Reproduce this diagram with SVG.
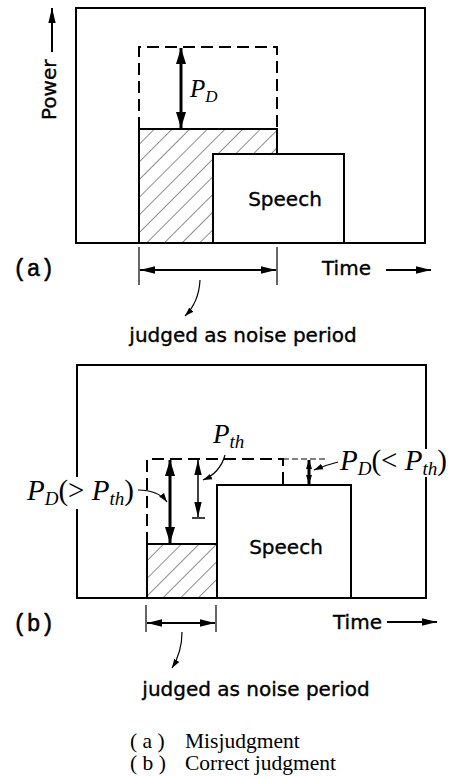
<svg xmlns="http://www.w3.org/2000/svg" width="457" height="780" viewBox="0 0 457 780">
<style>
.box{fill:none;stroke:#000;stroke-width:2}
.sp{fill:#fff;stroke:#000;stroke-width:2}
.dash{fill:none;stroke:#000;stroke-width:2;stroke-dasharray:12 6}
.thin{fill:none;stroke:#000;stroke-width:1.2}
.lbl{font-family:"DejaVu Sans",sans-serif;font-size:20px;fill:#000;stroke:#000;stroke-width:0.35}
.mono{font-family:"Liberation Mono","DejaVu Sans Mono",monospace;font-size:23px;fill:#000;stroke:#000;stroke-width:0.5}
.m{font-family:"Liberation Serif",serif;font-style:italic;fill:#000}
.cap{font-family:"Liberation Serif",serif;font-size:21.5px;fill:#000}
</style>
<defs>
<pattern id="hatch" patternUnits="userSpaceOnUse" width="12.5" height="12.5" patternTransform="rotate(45)">
<line x1="0" y1="0" x2="0" y2="12.5" stroke="#444" stroke-width="1.2"/>
</pattern>
<marker id="ah" markerUnits="userSpaceOnUse" markerWidth="16" markerHeight="12" refX="15" refY="6" orient="auto-start-reverse"><path d="M0,2.3 L15,6 L0,9.7 z" fill="#000"/></marker>
<marker id="ahk" markerUnits="userSpaceOnUse" markerWidth="17" markerHeight="12" refX="16" refY="6" orient="auto-start-reverse"><path d="M0,1 L16,6 L0,11 z" fill="#000"/></marker>
<marker id="ahs" markerUnits="userSpaceOnUse" markerWidth="10" markerHeight="8" refX="9" refY="4" orient="auto-start-reverse"><path d="M0,1 L9,4 L0,7 z" fill="#000"/></marker>
</defs>
<rect width="457" height="780" fill="#fff"/>

<g id="panel-a">
<rect class="box" x="76" y="8" width="349" height="235"/>
<g id="a-noise">
<rect x="139" y="129" width="138" height="114" fill="url(#hatch)" stroke="#000" stroke-width="2"/>
<path class="dash" d="M139,129 V47 H277 V129"/>
</g>
<g id="a-speech">
<rect class="sp" x="213" y="154" width="131" height="89"/>
<text class="lbl" x="285" y="206" text-anchor="middle">Speech</text>
</g>
<g id="a-power">
<text class="lbl" transform="translate(56,120) rotate(-90)">Power</text>
</g>
<g id="a-pd">
<text class="m" font-size="25" x="190" y="97">P<tspan font-size="17" dy="5">D</tspan></text>
</g>
<text class="mono" x="13" y="276">(a)</text>
<text class="lbl" x="322" y="275">Time</text>
<text class="lbl" x="243" y="342" text-anchor="middle">judged as noise period</text>
</g>

<g id="panel-b">
<path class="box" d="M77,477 V365 H426 V449 M426,477 V598 H77 V509"/>
<g id="b-noise">
<rect x="147" y="544" width="70" height="54" fill="url(#hatch)" stroke="#000" stroke-width="2"/>
<path class="dash" d="M147,544 V459 H283 V485"/>
<path fill="none" stroke="#000" stroke-width="1" stroke-dasharray="6 3" d="M283,459 H328"/>
</g>
<g id="b-speech">
<rect class="sp" x="217" y="485" width="134" height="113"/>
<text class="lbl" x="286" y="554" text-anchor="middle">Speech</text>
</g>
<g id="b-labels">
<text class="m" font-size="29" x="27" y="500">P<tspan font-size="19" dy="5">D</tspan><tspan dy="-5" font-style="normal">(&gt; </tspan>P<tspan font-size="19" dy="5">th</tspan><tspan dy="-5" font-style="normal">)</tspan></text>
<text class="m" font-size="27" x="213" y="443">P<tspan font-size="19" dy="5">th</tspan></text>
<text class="m" font-size="29" x="340" y="470">P<tspan font-size="19" dy="5">D</tspan><tspan dy="-5" font-style="normal">(&lt; </tspan>P<tspan font-size="19" dy="5">th</tspan><tspan dy="-5" font-style="normal">)</tspan></text>
</g>
<text class="mono" x="13" y="631">(b)</text>
<text class="lbl" x="333" y="629">Time</text>
<text class="lbl" x="256" y="696" text-anchor="middle">judged as noise period</text>
</g>

<g id="connectors">
<line x1="52" y1="52" x2="52" y2="8" stroke="#000" stroke-width="2" marker-end="url(#ah)"/>
<line x1="181" y1="48" x2="181" y2="128" stroke="#000" stroke-width="3" marker-start="url(#ahk)" marker-end="url(#ahk)"/>
<line class="thin" x1="139" y1="247" x2="139" y2="285"/>
<line class="thin" x1="277" y1="247" x2="277" y2="285"/>
<line x1="140" y1="270" x2="276" y2="270" stroke="#000" stroke-width="1.8" marker-start="url(#ah)" marker-end="url(#ah)"/>
<line x1="386" y1="270" x2="431" y2="270" stroke="#000" stroke-width="2" marker-end="url(#ah)"/>
<path class="thin" d="M200,280 Q199,302 185,316" marker-end="url(#ahs)"/>

<line x1="170" y1="460" x2="170" y2="543" stroke="#000" stroke-width="3" marker-start="url(#ahk)" marker-end="url(#ahk)"/>
<line x1="198" y1="460" x2="198" y2="517" stroke="#000" stroke-width="1.5" marker-start="url(#ah)" marker-end="url(#ah)"/>
<line x1="192" y1="518" x2="205" y2="518" stroke="#000" stroke-width="1.5"/>
<line x1="309" y1="460" x2="309" y2="484" stroke="#000" stroke-width="3" marker-start="url(#ahs)" marker-end="url(#ahs)"/>
<path class="thin" d="M138,490 Q158,490 167,502" marker-end="url(#ahs)"/>
<path class="thin" d="M225,455 Q220,473 203,480" marker-end="url(#ahs)"/>
<path class="thin" d="M338,462 Q326,465 314,470" marker-end="url(#ahs)"/>
<line class="thin" x1="146" y1="605" x2="146" y2="632"/>
<line class="thin" x1="216" y1="605" x2="216" y2="632"/>
<line x1="147" y1="623" x2="215" y2="623" stroke="#000" stroke-width="1.8" marker-start="url(#ah)" marker-end="url(#ah)"/>
<line x1="387" y1="622" x2="437" y2="622" stroke="#000" stroke-width="2" marker-end="url(#ah)"/>
<path class="thin" d="M182,632 Q182,652 172,668" marker-end="url(#ahs)"/>
</g>

<g id="caption">
<text class="cap" x="130" y="748" xml:space="preserve">( a )</text>
<text class="cap" x="185" y="748">Misjudgment</text>
<text class="cap" x="130" y="770" xml:space="preserve">( b )</text>
<text class="cap" x="185" y="770">Correct judgment</text>
</g>
</svg>
